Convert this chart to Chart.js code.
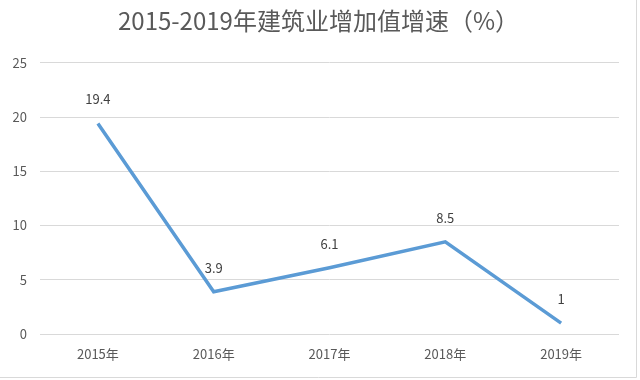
<!DOCTYPE html>
<html>
<head>
<meta charset="utf-8">
<script src="https://cdn.jsdelivr.net/npm/chart.js@4/dist/chart.umd.min.js"></script>
<style>
  html, body { margin: 0; padding: 0; background: #ffffff; }
  #wrap { width: 640px; height: 380px; position: relative; }
</style>
</head>
<body>
<div id="wrap"><canvas id="c" width="640" height="380"></canvas></div>
<script>
const titleText = "2015-2019年建筑业增加值增速（%）";
const categories = ["2015年", "2016年", "2017年", "2018年", "2019年"];
const growthValues = [19.4, 3.9, 6.1, 8.5, 1];
const valueLabels = ["19.4", "3.9", "6.1", "8.5", "1"];

const fontFamily = "'Microsoft YaHei', 'Noto Sans CJK SC', 'Noto Sans', sans-serif";

const dataLabelPlugin = {
  id: 'dataLabels',
  afterDatasetsDraw(chart) {
    const ctx = chart.ctx;
    const meta = chart.getDatasetMeta(0);
    ctx.save();
    ctx.font = "13px " + fontFamily;
    ctx.fillStyle = "#404040";
    ctx.textAlign = "center";
    ctx.textBaseline = "middle";
    meta.data.forEach((pt, i) => {
      ctx.fillText(valueLabels[i], pt.x, pt.y - 24);
    });
    ctx.restore();
  }
};

const titleShiftPlugin = {
  id: 'titleShift',
  afterLayout(chart) {
    const t = chart.titleBlock;
    if (t) { t.left += 9; t.right += 9; }
  }
};

const framePlugin = {
  id: 'frame',
  afterDraw(chart) {
    const ctx = chart.ctx;
    ctx.save();
    ctx.strokeStyle = "#d9d9d9";
    ctx.lineWidth = 1;
    ctx.beginPath();
    ctx.moveTo(636.5, 0);
    ctx.lineTo(636.5, 377.5);
    ctx.lineTo(0, 377.5);
    ctx.stroke();
    ctx.restore();
  }
};

new Chart(document.getElementById('c'), {
  type: 'line',
  data: {
    labels: categories,
    datasets: [{
      data: growthValues,
      borderColor: "#5B9BD5",
      backgroundColor: "#5B9BD5",
      borderWidth: 3.5,
      pointRadius: 0,
      tension: 0,
      fill: false
    }]
  },
  options: {
    responsive: false,
    animation: false,
    devicePixelRatio: 1,
    layout: { padding: { left: 0, right: 21, top: 0, bottom: 0 } },
    plugins: {
      legend: { display: false },
      tooltip: { enabled: false },
      title: {
        display: true,
        text: titleText,
        color: "#595959",
        font: { family: fontFamily, size: 24, weight: 'normal', lineHeight: 1.2 },
        padding: { top: 6, bottom: 28 }
      }
    },
    scales: {
      x: {
        offset: true,
        grid: { display: false, drawTicks: false },
        border: { display: false },
        ticks: {
          color: "#595959",
          font: { family: fontFamily, size: 13 },
          padding: 12,
          maxRotation: 0
        },
        afterFit(scale) { scale.height = 46; }
      },
      y: {
        min: 0,
        max: 25,
        grid: { color: "#d9d9d9", drawTicks: false, lineWidth: 1 },
        border: { display: false },
        ticks: {
          stepSize: 5,
          color: "#595959",
          font: { family: fontFamily, size: 13 },
          padding: 13
        },
        afterFit(scale) { scale.width = 40; }
      }
    }
  },
  plugins: [dataLabelPlugin, titleShiftPlugin, framePlugin]
});
</script>
</body>
</html>
